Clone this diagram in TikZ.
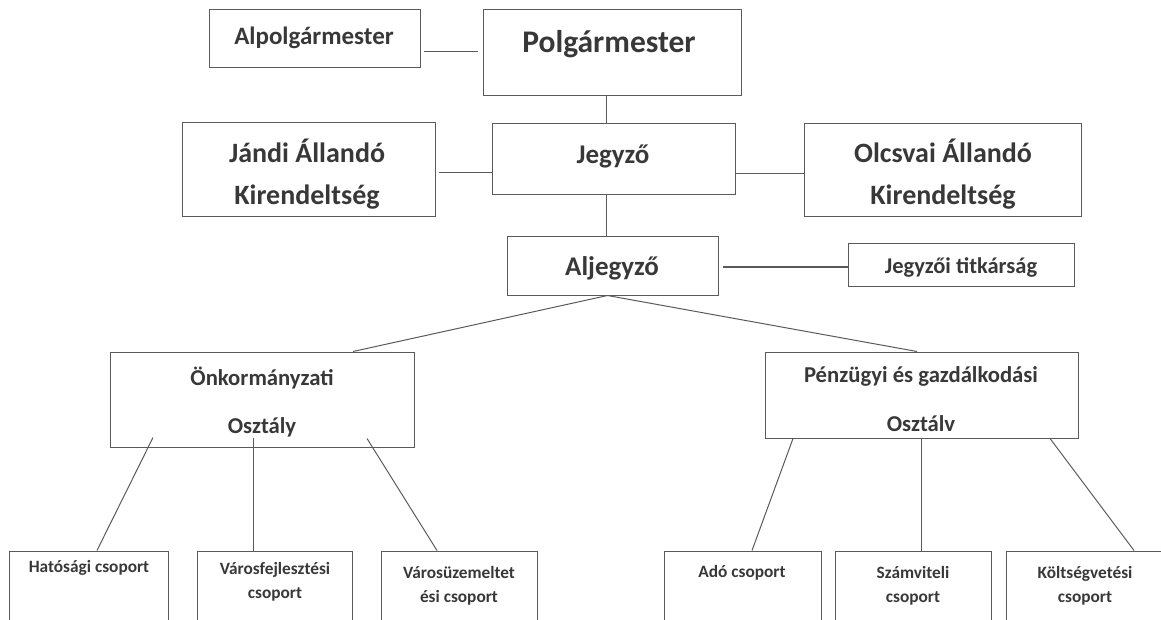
\documentclass[tikz,border=0pt]{standalone}
\usepackage{fontspec}
\setmainfont{Carlito}
\definecolor{linegray}{HTML}{5A5A5A}
\definecolor{textgray}{HTML}{383838}
\begin{document}
\begin{tikzpicture}[x=1pt,y=-1pt,
  box/.style={draw=linegray, line width=1pt, rectangle, inner sep=0pt, fill=none},
  conn/.style={draw=linegray, line width=1pt},
  lbl/.style={text=textgray, inner sep=0pt, align=center, font=\bfseries},
  fA/.style={font=\bfseries\fontsize{31.5}{38}\selectfont},
  fB/.style={font=\bfseries\fontsize{28}{41.5}\selectfont},
  fC/.style={font=\bfseries\fontsize{27}{32}\selectfont},
  fD/.style={font=\bfseries\fontsize{25}{30}\selectfont},
  fE/.style={font=\bfseries\fontsize{22.7}{48.5}\selectfont},
  fF/.style={font=\bfseries\fontsize{17.3}{24.5}\selectfont},
  fG/.style={font=\bfseries\fontsize{22.5}{27}\selectfont}]
\useasboundingbox (0,0) rectangle (1161,620);
\begin{scope}
\clip (0,0) rectangle (1161,620);
% boxes
\node[box, minimum width=211pt, minimum height=58pt] (alpol) at (314.5,39) {};
\node[box, minimum width=258pt, minimum height=86pt] (polg) at (612,53) {};
\node[box, minimum width=253pt, minimum height=94pt] (jandi) at (308.5,170) {};
\node[box, minimum width=243pt, minimum height=71pt] (jegyzo) at (613.5,159.5) {};
\node[box, minimum width=277pt, minimum height=93pt] (olcs) at (942.5,170.5) {};
\node[box, minimum width=211pt, minimum height=58pt] (aljegy) at (612.5,266) {};
\node[box, minimum width=226pt, minimum height=42pt] (titk) at (961,265) {};
\node[box, minimum width=304pt, minimum height=95pt] (onk) at (262,399.5) {};
\node[box, minimum width=313pt, minimum height=86pt] (penz) at (921.5,395) {};
\node[box, minimum width=159pt, minimum height=99pt] (hat) at (88.5,600.5) {};
\node[box, minimum width=155pt, minimum height=99pt] (vfej) at (274.5,600.5) {};
\node[box, minimum width=156pt, minimum height=99pt] (vuz) at (459,600.5) {};
\node[box, minimum width=157pt, minimum height=99pt] (ado) at (742.5,600.5) {};
\node[box, minimum width=156pt, minimum height=99pt] (szam) at (913,600.5) {};
\node[box, minimum width=164pt, minimum height=99pt] (kolt) at (1088,600.5) {};
% texts
\node[lbl, fD] (talpol) at (314,38) {Alpolgármester};
\node[lbl, fA] (tpolg) at (609,44) {Polgármester};
\node[lbl, fB] (tjandi) at (307,174) {Jándi Állandó\\Kirendeltség};
\node[lbl, fC] (tjegyzo) at (613,156) {Jegyző};
\node[lbl, fB] (tolcs) at (943,174) {Olcsvai Állandó\\Kirendeltség};
\node[lbl, fC] (taljegy) at (612,268) {Aljegyző};
\node[lbl, fG] (ttitk) at (961,267) {Jegyzői titkárság};
\node[lbl, fE] (tonk) at (262,402) {Önkormányzati\\Osztály};
\node[lbl, fE] (tpenz) at (921,399) {Pénzügyi és gazdálkodási\\Osztálv};
\node[lbl, fF] (that) at (89,568) {Hatósági csoport};
\node[lbl, fF] (tvfej) at (275,582) {Városfejlesztési\\csoport};
\node[lbl, fF] (tvuz) at (459,586) {Városüzemeltet\\ési csoport};
\node[lbl, fF] (tado) at (742,573) {Adó csoport};
\node[lbl, fF] (tszam) at (913,586) {Számviteli\\csoport};
\node[lbl, fF] (tkolt) at (1085,586) {Költségvetési\\csoport};
% connectors
\draw[conn] ([shift={(3,13)}]alpol.east) -- ([shift={(-5,-1)}]polg.west);
\draw[conn] ([shift={(-6,0)}]polg.south) -- ([shift={(-7.5,0)}]jegyzo.north);
\draw[conn] ([shift={(3,3)}]jandi.east) -- ([shift={(0,13.5)}]jegyzo.west);
\draw[conn] ([shift={(0,14.5)}]jegyzo.east) -- ([shift={(0,3.5)}]olcs.west);
\draw[conn] ([shift={(-7.5,0)}]jegyzo.south) -- ([shift={(-6.5,0)}]aljegy.north);
\draw[conn] ([shift={(4,1)}]aljegy.east) -- ([shift={(0,2)}]titk.west);
\draw[conn] ([shift={(-5,0)}]aljegy.south) -- ([shift={(91,0)}]onk.north);
\draw[conn] ([shift={(-5,0)}]aljegy.south) -- ([shift={(-4.5,0)}]penz.north);
\draw[conn] ([shift={(-109,-10)}]onk.south) -- ([shift={(8.5,0)}]hat.north);
\draw[conn] ([shift={(-9,-10)}]onk.south) -- ([shift={(-21.5,0)}]vfej.north);
\draw[conn] ([shift={(105,-9)}]onk.south) -- ([shift={(-22,0)}]vuz.north);
\draw[conn] ([shift={(-128.5,0)}]penz.south) -- ([shift={(9.5,0)}]ado.north);
\draw[conn] ([shift={(-0.5,0)}]penz.south) -- ([shift={(8,0)}]szam.north);
\draw[conn] ([shift={(128.5,0)}]penz.south) -- ([shift={(46,0)}]kolt.north);
\end{scope}
\end{tikzpicture}
\end{document}
